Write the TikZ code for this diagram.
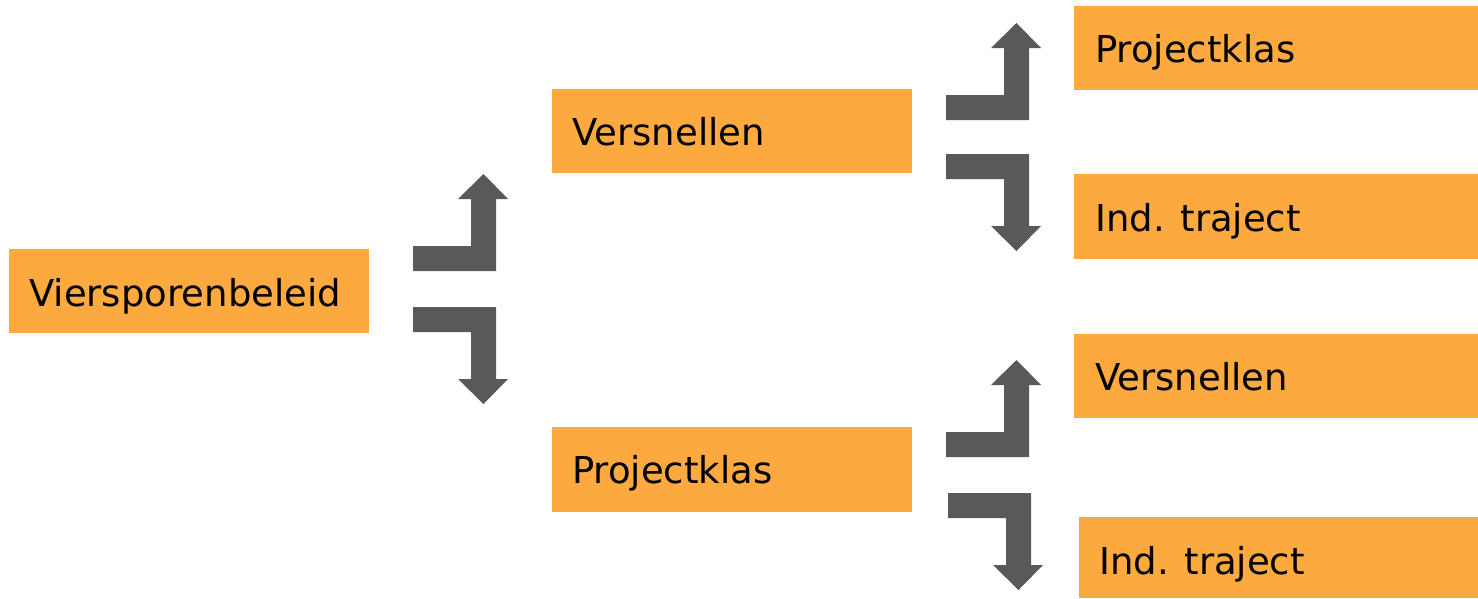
\documentclass[tikz,border=0pt]{standalone}
\usepackage{fontspec}
\setmainfont{DejaVu Sans}
\definecolor{boxorange}{HTML}{FCA940}
\definecolor{arrowgrey}{HTML}{595959}
\tikzset{
  box/.style={fill=boxorange, draw=none, anchor=north west, inner sep=0pt},
  lbl/.style={anchor=base west, inner sep=0pt, font=\fontsize{37}{44}\selectfont},
  pics/uparrow/.style={code={
    \fill[arrowgrey] (0,0) -- (83,0) -- (83,-72) -- (95,-72) -- (70.5,-97) -- (45,-72) -- (58,-72) -- (58,-25) -- (0,-25) -- cycle;}},
  pics/downarrow/.style={code={
    \fill[arrowgrey] (0,0) -- (83,0) -- (83,72) -- (95,72) -- (70.5,97) -- (45,72) -- (58,72) -- (58,25) -- (0,25) -- cycle;}},
}
\begin{document}
\begin{tikzpicture}[x=1pt,y=-1pt]
\useasboundingbox (0,0) rectangle (1478,598);
% boxes
\node[box, minimum width=360pt, minimum height=84pt] (vb) at (9,249) {};
\node[box, minimum width=360pt, minimum height=84pt] (v1) at (552,89) {};
\node[box, minimum width=360pt, minimum height=85pt] (p1) at (552,427) {};
\node[box, minimum width=404pt, minimum height=84pt] (p2) at (1074,6) {};
\node[box, minimum width=404pt, minimum height=85pt] (i1) at (1074,174) {};
\node[box, minimum width=404pt, minimum height=84pt] (v2) at (1074,334) {};
\node[box, minimum width=399pt, minimum height=81pt] (i2) at (1079,517) {};
% labels
\node[lbl] (tvb) at (29,306) {Viersporenbeleid};
\node[lbl] (tv1) at (572,145) {Versnellen};
\node[lbl] (tp1) at (572,483) {Projectklas};
\node[lbl] (tp2) at (1095,62) {Projectklas};
\node[lbl] (ti1) at (1095,231) {Ind. traject};
\node[lbl] (tv2) at (1095,390) {Versnellen};
\node[lbl] (ti2) at (1099,574) {Ind. traject};
% arrows
\pic at (413,271) {uparrow};
\pic at (413,307) {downarrow};
\pic at (946,120) {uparrow};
\pic at (946,154) {downarrow};
\pic at (946,457) {uparrow};
\pic at (948,493) {downarrow};
\end{tikzpicture}
\end{document}
